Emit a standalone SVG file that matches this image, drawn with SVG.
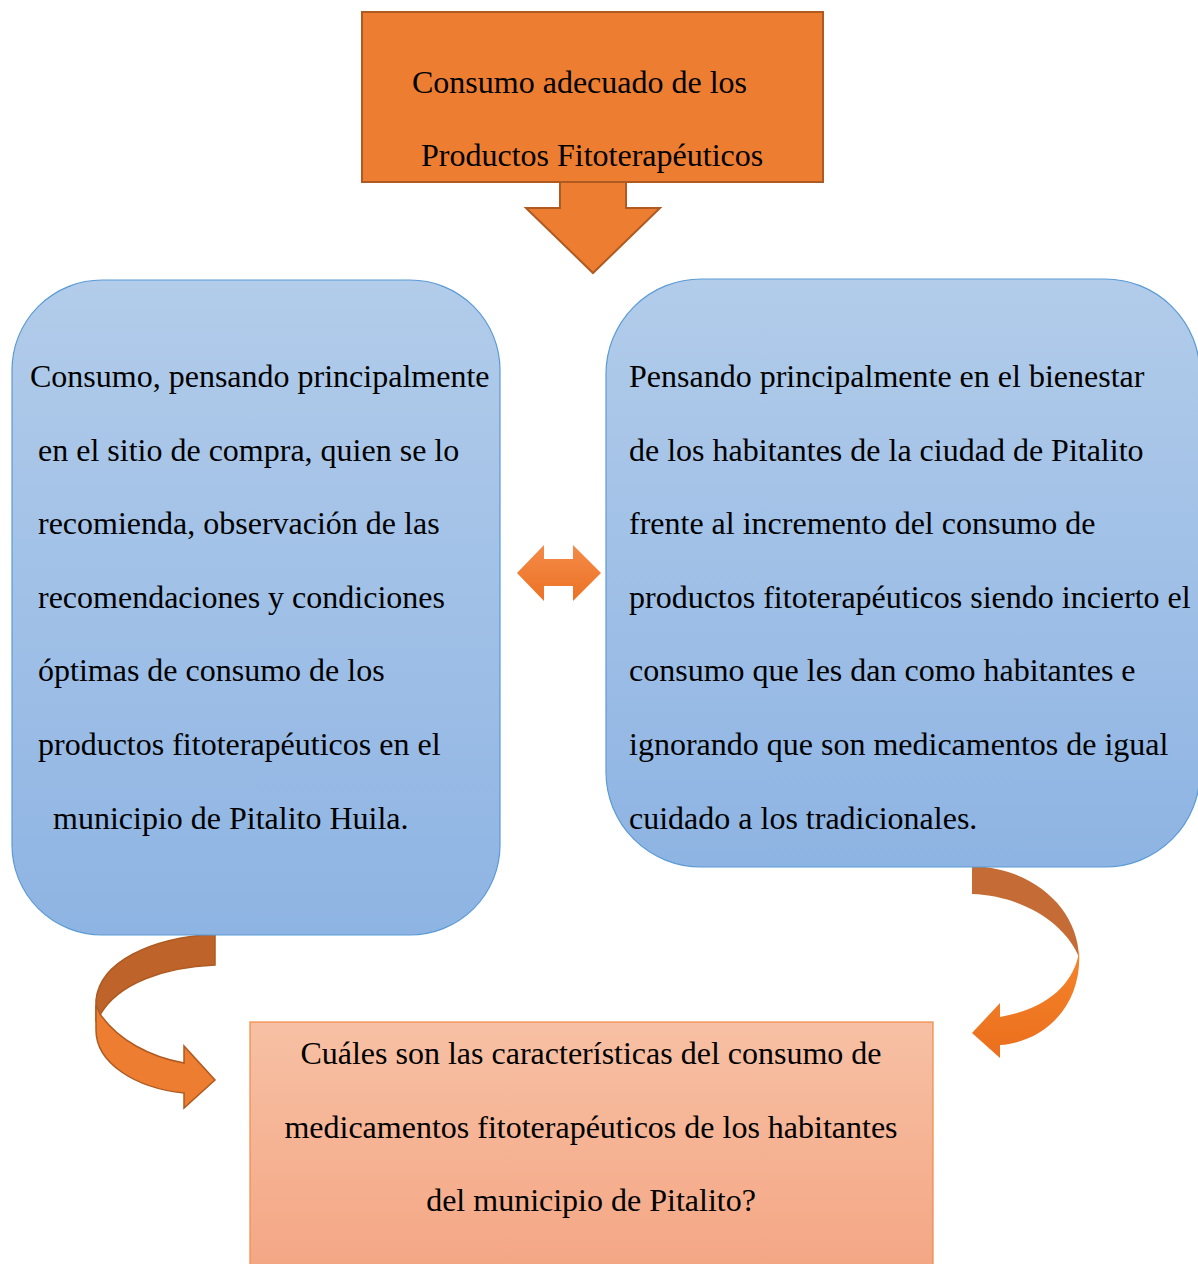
<svg xmlns="http://www.w3.org/2000/svg" width="1198" height="1264" viewBox="0 0 1198 1264">
<defs>
<style>
.t{font-family:"Liberation Serif","Times New Roman",serif;font-size:32px;fill:#000;}
.m{text-anchor:middle;}
</style>
<linearGradient id="blue" x1="0" y1="0" x2="0" y2="1"><stop offset="0" stop-color="#B2CCEA"/><stop offset="1" stop-color="#8EB4E3"/></linearGradient>
<linearGradient id="peach" x1="0" y1="0" x2="0" y2="1"><stop offset="0" stop-color="#F7C0A4"/><stop offset="1" stop-color="#F4A684"/></linearGradient>
<linearGradient id="orng" x1="0" y1="0" x2="0" y2="1"><stop offset="0" stop-color="#F48A48"/><stop offset="1" stop-color="#EC7224"/></linearGradient>
<linearGradient id="orng2" x1="0" y1="0" x2="0" y2="1"><stop offset="0" stop-color="#F5852C"/><stop offset="1" stop-color="#EB6E1C"/></linearGradient>
</defs>
<g id="connectors">
<path id="down-arrow" d="M560,182 L626,182 L626,208 L660,208 L593,273 L526,208 L560,208 Z" fill="#ED7D31" stroke="#AE5A21" stroke-width="2"/>
<path id="double-arrow" d="M517,573 L544,545 L544,559 L573,559 L573,545 L601,573 L573,601 L573,586 L544,586 L544,601 Z" fill="url(#orng)"/>
<g id="left-curve">
<path d="M215,934 L215,965 C165,967 118,983 100,1015 L96,1020 L96,1000 C100,962 150,938 215,934 Z" fill="#BE6329" stroke="#AE5A21" stroke-width="1.5"/>
<path d="M100,1014 C118,1040 150,1057 184,1063 L184,1046 L215,1080 L184,1108 L184,1093 C135,1088 96,1063 96,1030 L96,1005 Z" fill="#ED7D31" stroke="#AE5A21" stroke-width="1.5"/>
</g>
<g id="right-curve">
<path d="M972,866 C1035,868 1078,910 1079,957 C1066,925 1025,896 972,894 Z" fill="#C56B36"/>
<path d="M1079,950 C1083,1005 1045,1042 1000,1045 L1000,1058 L972,1033 L1000,1003 L1000,1017 C1040,1010 1070,990 1078,957 Z" fill="url(#orng2)"/>
</g>
</g>
<g id="top-node">
<rect x="362" y="12" width="461" height="170" fill="#ED7D31" stroke="#AE5A21" stroke-width="2"/>
<text class="t" x="412" y="93">Consumo adecuado de los</text>
<text class="t" x="421" y="166">Productos Fitoterapéuticos</text>
</g>
<g id="left-node">
<rect x="12" y="280" width="488" height="655" rx="90" ry="90" fill="url(#blue)" stroke="#5B9BD5" stroke-width="1.2"/>
<text class="t" x="30" y="387">Consumo, pensando principalmente</text>
<text class="t" x="38" y="461">en el sitio de compra, quien se lo</text>
<text class="t" x="38" y="534">recomienda, observación de las</text>
<text class="t" x="38" y="608">recomendaciones y condiciones</text>
<text class="t" x="38" y="681">óptimas de consumo de los</text>
<text class="t" x="38" y="755">productos fitoterapéuticos en el</text>
<text class="t" x="53" y="829">municipio de Pitalito Huila.</text>
</g>
<g id="right-node">
<rect x="606" y="279" width="594" height="588" rx="95" ry="95" fill="url(#blue)" stroke="#5B9BD5" stroke-width="1.2"/>
<text class="t" x="629" y="387">Pensando principalmente en el bienestar</text>
<text class="t" x="629" y="461">de los habitantes de la ciudad de Pitalito</text>
<text class="t" x="629" y="534">frente al incremento del consumo de</text>
<text class="t" x="629" y="608">productos fitoterapéuticos siendo incierto el</text>
<text class="t" x="629" y="681">consumo que les dan como habitantes e</text>
<text class="t" x="629" y="755">ignorando que son medicamentos de igual</text>
<text class="t" x="629" y="829">cuidado a los tradicionales.</text>
</g>
<g id="bottom-node">
<rect x="250" y="1022" width="683" height="250" fill="url(#peach)" stroke="#F08A45" stroke-width="1.2"/>
<text class="t m" x="591" y="1064">Cuáles son las características del consumo de</text>
<text class="t m" x="591" y="1138">medicamentos fitoterapéuticos de los habitantes</text>
<text class="t m" x="591" y="1211">del municipio de Pitalito?</text>
</g>
</svg>
